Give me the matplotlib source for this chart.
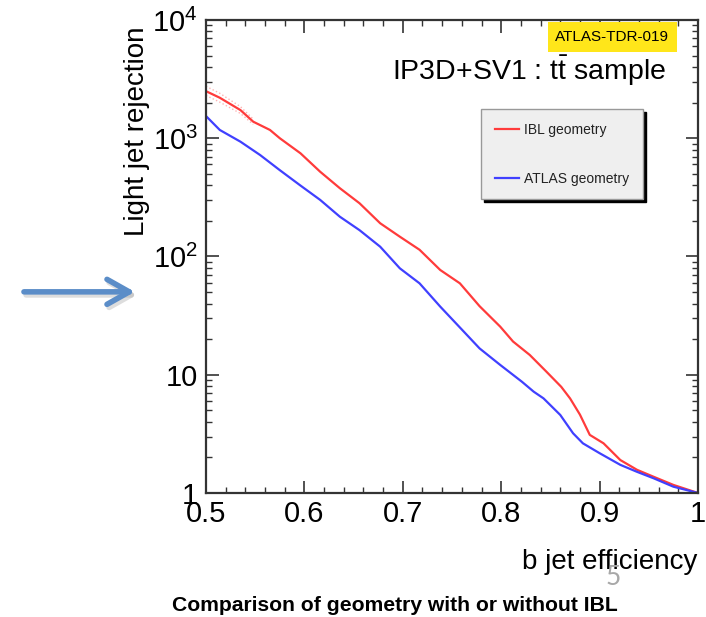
import numpy as np
import matplotlib.pyplot as plt
from matplotlib.ticker import MultipleLocator, LogLocator, NullFormatter

plt.rcParams['font.family'] = ['Liberation Sans', 'DejaVu Sans']
plt.rcParams['mathtext.fontset'] = 'custom'
plt.rcParams['mathtext.rm'] = 'Liberation Sans'
plt.rcParams['mathtext.it'] = 'Liberation Sans'
plt.rcParams['mathtext.default'] = 'regular'

# b-jet efficiency vs light jet rejection
eff_ibl = [0.500, 0.514, 0.535, 0.548, 0.565, 0.575, 0.596, 0.616, 0.636, 0.656,
           0.677, 0.697, 0.717, 0.738, 0.758, 0.778, 0.799, 0.812, 0.829, 0.846,
           0.861, 0.870, 0.880, 0.890, 0.904, 0.921, 0.938, 0.955, 0.975, 1.000]
rej_ibl = [2500, 2200, 1730, 1380, 1175, 1000, 746, 521, 378, 282,
           191, 147, 114, 76.9, 59.3, 38.0, 25.5, 19.1, 14.7, 10.6,
           7.9, 6.3, 4.6, 3.1, 2.63, 1.90, 1.57, 1.37, 1.17, 1.0]

eff_atlas = [0.500, 0.514, 0.535, 0.555, 0.575, 0.596, 0.616, 0.636, 0.656, 0.677,
             0.697, 0.717, 0.738, 0.758, 0.778, 0.799, 0.821, 0.833, 0.843, 0.860,
             0.873, 0.883, 0.900, 0.921, 0.938, 0.955, 0.975, 1.000]
rej_atlas = [1540, 1175, 935, 721, 537, 398, 301, 217, 167, 121,
             79.4, 59.3, 37.7, 25.1, 16.7, 12.1, 8.73, 7.19, 6.31, 4.57,
             3.20, 2.63, 2.17, 1.73, 1.51, 1.33, 1.13, 1.0]

# faint stat. band on the IBL curve at low efficiency
eff_band = [0.500, 0.514, 0.535, 0.548]
band_hi = [2750, 2400, 1850, 1450]
band_lo = [2300, 2020, 1620, 1310]

yticks = [1, 10, 100, 1000, 10000]
ylabels = ['1', '10', r'$10^{2}$', r'$10^{3}$', r'$10^{4}$']

fig = plt.figure(figsize=(7.06, 6.17), dpi=100)
ax = fig.add_axes([0.2918, 0.2010, 0.6969, 0.7666])

ax.plot(eff_band, band_hi, ':', color='#ff6666', lw=1, alpha=0.5)
ax.plot(eff_band, band_lo, ':', color='#ff6666', lw=1, alpha=0.5)
ax.plot(eff_ibl, rej_ibl, color='#ff3b3b', lw=1.6, label='IBL geometry')
ax.plot(eff_atlas, rej_atlas, color='#4040ff', lw=1.6, label='ATLAS geometry')

ax.set_yscale('log')
ax.set_xlim(0.5, 1.0)
ax.set_ylim(1, 1e4)
ax.set_yticks(yticks)
ax.set_yticklabels(ylabels)
ax.yaxis.set_minor_locator(LogLocator(base=10, subs=np.arange(2, 10)))
ax.yaxis.set_minor_formatter(NullFormatter())
ax.set_xticks([0.5, 0.6, 0.7, 0.8, 0.9, 1.0])
ax.set_xticklabels(['0.5', '0.6', '0.7', '0.8', '0.9', '1'])
ax.xaxis.set_minor_locator(MultipleLocator(0.02))

ax.tick_params(which='both', direction='in', top=True, right=True,
               labelsize=21, color='#333333')
ax.tick_params(which='major', length=9, width=1.2)
ax.tick_params(which='minor', length=4.5, width=1.0)
ax.tick_params(axis='x', pad=5)
ax.tick_params(axis='y', pad=6)
for s in ax.spines.values():
    s.set_linewidth(1.6)
    s.set_color('#333333')

leg = ax.legend(loc='upper left', bbox_to_anchor=(0.559, 0.812), fontsize=10,
                labelspacing=2.5, handlelength=1.7, handletextpad=0.4,
                borderpad=1.0, borderaxespad=0, fancybox=False,
                shadow={'color': 'black', 'alpha': 1.0},
                facecolor='#efefef', edgecolor='#999999', framealpha=1)
leg.get_frame().set_linewidth(1.0)
for t in leg.get_texts():
    t.set_color('#222222')

ax.text(0.826, 0.964, 'ATLAS-TDR-019', transform=ax.transAxes, ha='center', va='center',
        fontsize=11, bbox=dict(boxstyle='square,pad=0.5', fc='#ffe61a', ec='none'))
ax.text(0.935, 0.893, r'IP3D+SV1 : t$\bar{t}$ sample', transform=ax.transAxes,
        ha='right', va='center', fontsize=20.5)

fig.text(0.194, 0.788, 'Light jet rejection', rotation=90, ha='center', va='center',
         fontsize=20)
fig.text(0.988, 0.089, 'b jet efficiency', ha='right', va='center', fontsize=20)
fig.text(0.560, 0.019, 'Comparison of geometry with or without IBL', ha='center',
         va='center', fontsize=15.2, fontweight='bold')
fig.text(0.868, 0.064, '5', ha='center', va='center', fontsize=19, color='#a8a8a8',
         family='Lato')

fig.patches.append(plt.matplotlib.patches.FancyArrowPatch(
    (0.033, 0.522), (0.198, 0.522), transform=fig.transFigure,
    arrowstyle='->,head_length=0.8,head_width=0.45', mutation_scale=20,
    lw=4, color='#ababab', alpha=0.4))
fig.patches.append(plt.matplotlib.patches.FancyArrowPatch(
    (0.030, 0.527), (0.195, 0.527), transform=fig.transFigure,
    arrowstyle='->,head_length=0.8,head_width=0.45', mutation_scale=20,
    lw=4, color='#5b8dc8'))

fig.savefig('out.png', dpi=100)
